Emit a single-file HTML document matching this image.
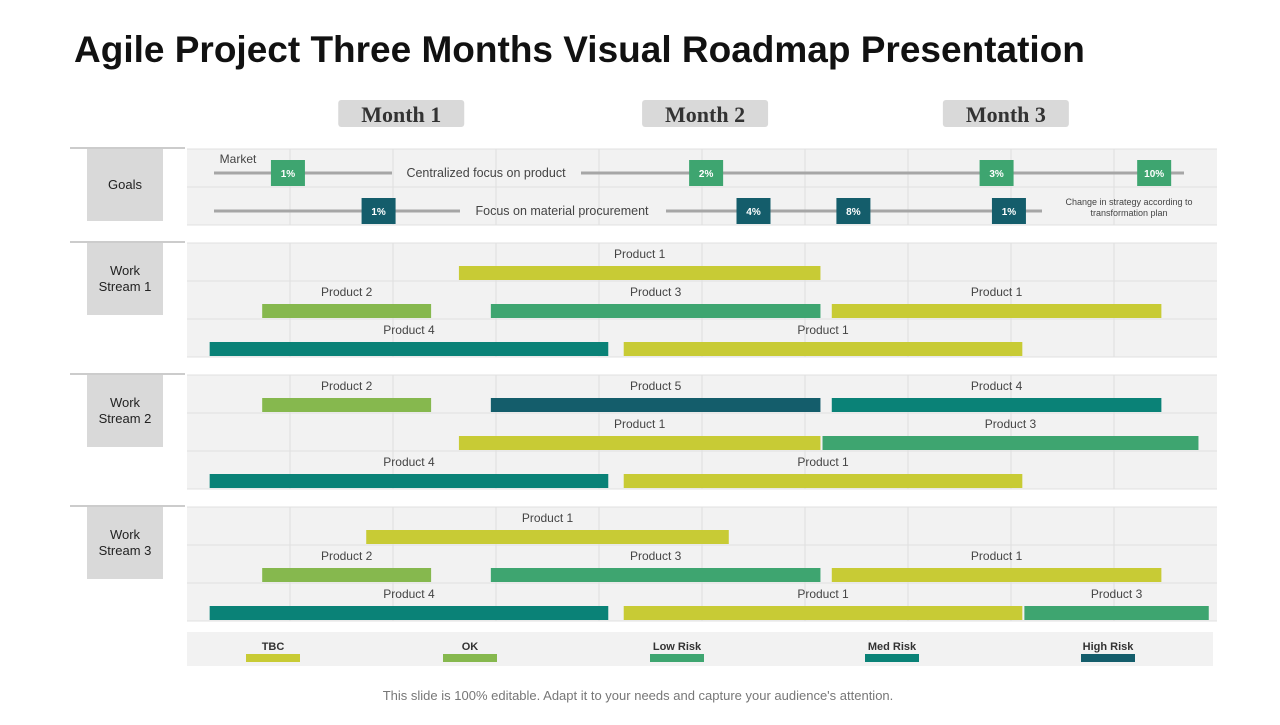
<!DOCTYPE html>
<html><head><meta charset="utf-8"><style>
body{margin:0;width:1280px;height:720px;background:#fff;overflow:hidden;font-family:"Liberation Sans",sans-serif}
</style></head><body>
<svg id="c" width="1280" height="720" xmlns="http://www.w3.org/2000/svg">
<text x="74" y="62" font-size="37" font-weight="bold" fill="#111">Agile Project Three Months Visual Roadmap Presentation</text>
<text x="638" y="700" font-size="13" fill="#777" text-anchor="middle">This slide is 100% editable. Adapt it to your needs and capture your audience's attention.</text>
</svg>
<script>
const months=["Month 1","Month 2","Month 3"];
const monthCenters=[2.08,5.03,7.95];
const sections=["Goals","Work\nStream 1","Work\nStream 2","Work\nStream 3"];
const legendLabels=["TBC","OK","Low Risk","Med Risk","High Risk"];
const colors={TBC:"#c8cb35",OK:"#86b84e",Low:"#3ea570",Med:"#0a8277",High:"#145d6b"};
const barSection=[1,1,1,1,1,1, 2,2,2,2,2,2,2, 3,3,3,3,3,3,3];
const barRow=[0,1,1,1,2,2, 0,0,0,1,1,2,2, 0,1,1,1,2,2,2];
const barStart=[2.64,0.73,2.95,6.26,0.22,4.24, 0.73,2.95,6.26,2.64,6.17,0.22,4.24, 1.74,0.73,2.95,6.26,0.22,4.24,8.13];
const barEnd=[6.15,2.37,6.15,9.46,4.09,8.11, 2.37,6.15,9.46,6.15,9.82,4.09,8.11, 5.26,2.37,6.15,9.46,4.09,8.11,9.92];
const barStatus=["TBC","OK","Low","TBC","Med","TBC", "OK","High","Med","TBC","Low","Med","TBC", "TBC","OK","Low","TBC","Med","TBC","Low"];
const barLabel=["Product 1","Product 2","Product 3","Product 1","Product 4","Product 1","Product 2","Product 5","Product 4","Product 1","Product 3","Product 4","Product 1","Product 1","Product 2","Product 3","Product 1","Product 4","Product 1","Product 3"];
const goalMarkerRow=[0,0,0,0,1,1,1,1];
const goalMarkerPos=[0.98,5.04,7.86,9.39,1.86,5.5,6.47,7.98];
const goalMarkerValue=["1%","2%","3%","10%","1%","4%","8%","1%"];

const svg=document.getElementById('c');
const NS="http://www.w3.org/2000/svg";
const X0=187,CW=103;
const xs=u=>X0+u*CW;
const secTop=[149,243,375,507];
const rowH=38;
function mk(t,a,name,par){const e=document.createElementNS(NS,t);for(const k in a)e.setAttribute(k,a[k]);


(par||svg).appendChild(e);return e;}

months.forEach((m,i)=>{const cx=xs(monthCenters[i]);
mk('rect',{x:cx-63,y:100,width:126,height:27,rx:3,fill:'#d9d9d9'},'month-header-bg');
const t=mk('text',{x:cx,y:122,'font-size':22,'font-weight':'bold','text-anchor':'middle',fill:'#333','font-family':'"Liberation Serif",serif'},'month-header');t.textContent=m;});

sections.forEach((s,i)=>{const top=secTop[i];const rows=i==0?2:3;const h=rows*rowH;
mk('rect',{x:X0,y:top,width:1030,height:h,fill:'#f2f2f2'},'section-panel');
for(let c=1;c<10;c++)mk('line',{x1:xs(c),x2:xs(c),y1:top,y2:top+h,stroke:'#dedede'},'grid-line');
for(let r=0;r<=rows;r++)mk('line',{x1:X0,x2:1217,y1:top+r*rowH,y2:top+r*rowH,stroke:'#e0e0e0'},'row-line');
mk('line',{x1:70,x2:185,y1:top-1,y2:top-1,stroke:'#bbb','stroke-width':1.5},'section-shadow');
mk('rect',{x:87,y:top,width:76,height:72,fill:'#d9d9d9'},'section-label-bg');
const lines=s.split('\n');const t=mk('text',{'font-size':13,'text-anchor':'middle',fill:'#222'},'section-label');
lines.forEach((l,j)=>{const ts=document.createElementNS(NS,'tspan');ts.setAttribute('x',125);ts.setAttribute('y',top+40+(j-(lines.length-1)/2)*16);ts.textContent=l;t.appendChild(ts);});});

const gy=[173,211];
mk('line',{x1:214,x2:392,y1:173,y2:173,stroke:'#a6a6a6','stroke-width':3},'goal-line');
mk('line',{x1:581,x2:1184,y1:173,y2:173,stroke:'#a6a6a6','stroke-width':3},'goal-line');
mk('line',{x1:214,x2:460,y1:211,y2:211,stroke:'#a6a6a6','stroke-width':3},'goal-line');
mk('line',{x1:666,x2:1042,y1:211,y2:211,stroke:'#a6a6a6','stroke-width':3},'goal-line');
[[486,177,'Centralized focus on product',12.5],[562,215,'Focus on material procurement',12.5],[238,163,'Market',12]].forEach(a=>{const t=mk('text',{x:a[0],y:a[1],'font-size':a[3],'text-anchor':'middle',fill:'#444'},'goal-text');t.textContent=a[2];});
const n1=mk('text',{x:1129,y:205,'font-size':9,'text-anchor':'middle',fill:'#444'},'goal-note');n1.textContent='Change in strategy according to';
const n2=mk('text',{x:1129,y:216,'font-size':9,'text-anchor':'middle',fill:'#444'},'goal-note');n2.textContent='transformation plan';
goalMarkerPos.forEach((p,i)=>{const cx=xs(p),cy=gy[goalMarkerRow[i]];
mk('rect',{x:cx-17,y:cy-13,width:34,height:26,fill:goalMarkerRow[i]?'#145d6b':'#3ea570'},'goal-marker');
const t=mk('text',{x:cx,y:cy+4,'font-size':10,'font-weight':'bold','text-anchor':'middle',fill:'#fff'},'goal-marker-value');t.textContent=goalMarkerValue[i];});

barStart.forEach((s,i)=>{const top=secTop[barSection[i]]+barRow[i]*rowH;const x1=xs(s),x2=xs(barEnd[i]);
mk('rect',{x:x1,y:top+23,width:x2-x1,height:14,fill:colors[barStatus[i]]},'bar-'+barLabel[i].toLowerCase().replace(' ','-'));
const t=mk('text',{x:(x1+x2)/2,y:top+15,'font-size':12,'text-anchor':'middle',fill:'#444'},'bar-label');t.textContent=barLabel[i];});

mk('rect',{x:187,y:632,width:1026,height:34,fill:'#f2f2f2'},'legend-panel');
const lc=[273,470,677,892,1108];
legendLabels.forEach((l,i)=>{const k=["TBC","OK","Low","Med","High"][i];
const t=mk('text',{x:lc[i],y:650,'font-size':11,'font-weight':'bold','text-anchor':'middle',fill:'#333'},'legend-label');t.textContent=l;
mk('rect',{x:lc[i]-27,y:654,width:54,height:8,fill:colors[k]},'legend-swatch');});
</script>
</body></html>
